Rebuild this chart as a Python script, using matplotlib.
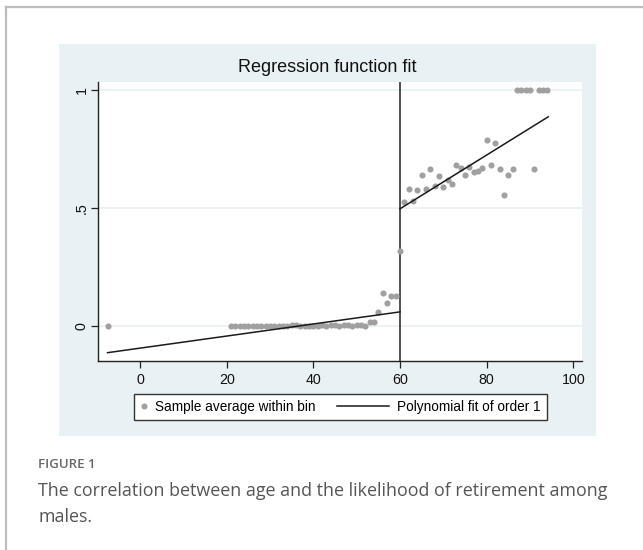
import matplotlib
matplotlib.use("Agg")
import matplotlib.pyplot as plt
from matplotlib.lines import Line2D
from matplotlib.patches import Rectangle
from matplotlib.legend_handler import HandlerLine2D

# ---------------- data ----------------
left_age = [-7.5] + list(range(21, 60))
left_val = [0.0,
            0.0, 0.0, 0.0, 0.0, 0.0, 0.0, 0.0, 0.0, 0.0, 0.0,   # 21-30
            0.0, 0.0, 0.0, 0.0, 0.005, 0.002, 0.0, 0.0, 0.0, 0.0,  # 31-40
            0.0, 0.003, 0.0, 0.005, 0.002, 0.0, 0.002, 0.004, 0.0, 0.004,  # 41-50
            0.002, 0.0, 0.014, 0.014, 0.057, 0.139, 0.097, 0.128, 0.128]   # 51-59
right_age = list(range(60, 95))
right_val = [0.316, 0.524, 0.578, 0.528, 0.575, 0.640, 0.580, 0.666, 0.592, 0.634,
             0.589, 0.620, 0.600, 0.682, 0.668, 0.640, 0.672, 0.650, 0.656, 0.670,
             0.789, 0.683, 0.775, 0.665, 0.553, 0.641, 0.665, 1.0, 1.0, 1.0,
             1.0, 0.665, 1.0, 1.0, 1.0]
fit_left_x = [-7.5, 60]
fit_left_y = [-0.114, 0.059]
fit_right_x = [60, 94.2]
fit_right_y = [0.496, 0.886]
cutoff = 60
xticks = [0, 20, 40, 60, 80, 100]
yticks = [0, 0.5, 1]
ytick_labels = ["0", ".5", "1"]

title = "Regression function fit"
legend_labels = ["Sample average within bin", "Polynomial fit of order 1"]
fig_label = "FIGURE 1"
caption1 = "The correlation between age and the likelihood of retirement among"
caption2 = "males."

# ---------------- figure ----------------
W, H = 643, 550
fig = plt.figure(figsize=(W / 100, H / 100), dpi=100)
fig.patch.set_facecolor("white")

def fx(px):
    return px / W

def fy(py):
    return 1 - py / H

# outer frame lines
fig.add_artist(Line2D([fx(6), 1.0], [fy(7), fy(7)], color="#bdbdbd", lw=1.6,
                      transform=fig.transFigure))
fig.add_artist(Line2D([fx(6), fx(6)], [fy(7), 0.0], color="#bdbdbd", lw=1.6,
                      transform=fig.transFigure))

# Stata graph region
panel_col = "#eaf1f4"
fig.add_artist(Rectangle((fx(59), fy(436)), fx(596) - fx(59), fy(44) - fy(436),
                         transform=fig.transFigure, facecolor=panel_col,
                         edgecolor="none", zorder=0))

ax_l, ax_r, ax_t, ax_b = 98, 582, 81.7, 360.7
ax = fig.add_axes([fx(ax_l), fy(ax_b), fx(ax_r) - fx(ax_l), fy(ax_t) - fy(ax_b)])
ax.set_facecolor("white")
ax.set_xlim(-9.7, 102)
ax.set_ylim(-0.148, 1.035)

font = "Liberation Sans"

for y in yticks:
    ax.axhline(y, color=panel_col, lw=1.2, zorder=1)

ax.axvline(cutoff, color="#333333", lw=1.2, zorder=2)

mcol = "#a0a0a0"
ax.plot(left_age + right_age, left_val + right_val, linestyle="none", marker="o",
        markersize=4.4, color=mcol, markeredgewidth=0, zorder=3,
        label=legend_labels[0])
ax.plot(fit_left_x, fit_left_y, color="#1a1a1a", lw=1.1, zorder=4,
        label=legend_labels[1])
ax.plot(fit_right_x, fit_right_y, color="#1a1a1a", lw=1.1, zorder=4)

for s in ["top", "right"]:
    ax.spines[s].set_visible(False)
for s in ["left", "bottom"]:
    ax.spines[s].set_color("#222222")
    ax.spines[s].set_linewidth(1.0)

ax.set_xticks(xticks)
ax.set_xticklabels([str(v) for v in xticks], fontfamily=font, fontsize=10.3)
ax.set_yticks(yticks)
ax.set_yticklabels(ytick_labels, fontfamily=font, fontsize=10.3, rotation=90,
                   va="center")
ax.tick_params(axis="both", direction="out", length=5, width=0.9, color="#222222",
               labelcolor="#111111")
ax.tick_params(axis="x", pad=4)
ax.tick_params(axis="y", pad=1.5)

fig.text(fx(327.5), fy(68), title, ha="center", va="center", fontsize=13,
         fontfamily=font, color="#111111")


class SmallMarkerHandler(HandlerLine2D):
    def legend_artist(self, legend, orig_handle, fontsize, handlebox):
        handlebox.width = 0.5 * fontsize
        return super().legend_artist(legend, orig_handle, fontsize, handlebox)


handles, labels = ax.get_legend_handles_labels()
leg = fig.legend(handles, labels, loc="center", ncol=2,
                 bbox_to_anchor=(fx(340.5), fy(407)), bbox_transform=fig.transFigure,
                 prop={"family": font, "size": 9.8}, frameon=True, fancybox=False,
                 edgecolor="#333333", facecolor="white", framealpha=1,
                 handlelength=3.8, handletextpad=0.6, columnspacing=1.6,
                 borderpad=0.45, numpoints=1,
                 handler_map={handles[0]: SmallMarkerHandler(numpoints=1)})
leg.get_frame().set_linewidth(1.0)

# caption
cap_font = ["Open Sans", "DejaVu Sans"]
fig.text(fx(38), fy(464), fig_label, ha="left", va="center", fontsize=9.5,
         fontfamily=cap_font, color="#666666", fontweight="semibold")
fig.text(fx(38), fy(491), caption1, ha="left", va="center", fontsize=12.9,
         fontfamily=cap_font, color="#555555")
fig.text(fx(38), fy(517), caption2, ha="left", va="center", fontsize=12.9,
         fontfamily=cap_font, color="#555555")

fig.savefig("out.png", dpi=100)
